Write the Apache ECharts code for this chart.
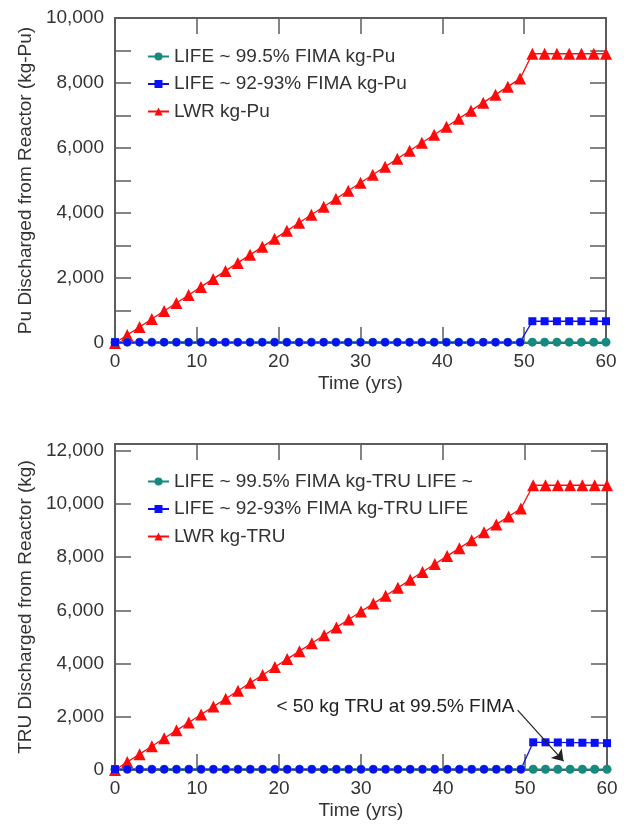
<!DOCTYPE html>
<html><head><meta charset="utf-8">
<script src="https://cdn.jsdelivr.net/npm/echarts@6/dist/echarts.min.js"></script>
<style>html,body{margin:0;padding:0;background:#fff}#c{width:628px;height:827px}</style>
</head><body><div id="c"></div>
<script>
// ---- data ----
const years = [0,1.5,3,4.5,6,7.5,9,10.5,12,13.5,15,16.5,18,19.5,21,22.5,24,25.5,27,28.5,30,31.5,33,34.5,36,37.5,39,40.5,42,43.5,45,46.5,48,49.5,51,52.5,54,55.5,57,58.5,60];
const xTicks = [0,10,20,30,40,50,60];

const puLwr = [0,247,493,740,986,1233,1479,1726,1972,2219,2465,2712,2958,3205,3451,3698,3944,4191,4437,4684,4930,5177,5423,5670,5916,6163,6409,6656,6902,7149,7395,7642,7888,8135,8900,8900,8900,8900,8900,8900,8900];
const puLife995 = [25,25,25,25,25,25,25,25,25,25,25,25,25,25,25,25,25,25,25,25,25,25,25,25,25,25,25,25,25,25,25,25,25,25,25,25,25,25,25,25,25];
const puLife92 = [25,25,25,25,25,25,25,25,25,25,25,25,25,25,25,25,25,25,25,25,25,25,25,25,25,25,25,25,25,25,25,25,25,25,670,670,670,670,670,670,670];

const truLwr = [0,298,595,893,1191,1489,1786,2084,2382,2679,2977,3275,3572,3870,4168,4466,4763,5061,5359,5656,5954,6252,6549,6847,7145,7443,7740,8038,8336,8633,8931,9229,9526,9824,10700,10700,10700,10700,10700,10700,10700];
const truLife995 = [30,30,30,30,30,30,30,30,30,30,30,30,30,30,30,30,30,30,30,30,30,30,30,30,30,30,30,30,30,30,30,30,30,30,30,30,30,30,30,30,30];
const truLife92 = [30,30,30,30,30,30,30,30,30,30,30,30,30,30,30,30,30,30,30,30,30,30,30,30,30,30,30,30,30,30,30,30,30,30,1040,1040,1035,1030,1025,1020,1010];

const namesPu = ['LIFE ~ 99.5% FIMA kg-Pu','LIFE ~ 92-93% FIMA kg-Pu','LWR kg-Pu'];
const namesTru = ['LIFE ~ 99.5% FIMA kg-TRU LIFE ~','LIFE ~ 92-93% FIMA kg-TRU LIFE','LWR kg-TRU'];
const noteText = '< 50 kg TRU at 99.5% FIMA';
const noteAt = [34.2, 2375];
const arrowFrom = [49.1, 2250];
const arrowTo = [54.7, 330];

// ---- chart ----
const FONT = '"Liberation Sans", Arial, Helvetica, sans-serif';
const TXT = '#333';
const AX = '#5c5c5c';
const TEAL = '#168a7e', BLUE = '#0a10f5', RED = '#ff0a0a';

function pts(ys){ return years.map((x,i)=>[x, ys[i]]); }
function bluePts(ys){
  // the blue series shows round markers while it runs along the teal one
  return years.map((x,i)=>{ const it={value:[x,ys[i]]}; if(i>=1 && x<50) it.symbol='circle'; return it; });
}
const fmt = v => v.toLocaleString('en-US');

function xAx(g, pos, showName){
  return {gridIndex:g, type:'value', min:0, max:60, interval:10, position:pos,
    name: showName ? 'Time (yrs)' : '', nameLocation:'middle', nameGap:31,
    nameTextStyle:{fontFamily:FONT, fontSize:19, color:TXT},
    axisLine:{show:true, onZero:false, lineStyle:{color:AX, width:2}},
    axisTick:{show:true, inside:true, length:16, lineStyle:{color:AX, width:1.5}},
    axisLabel:{show:showName, margin:9, fontFamily:FONT, fontSize:19, color:TXT},
    splitLine:{show:false}};
}
function yAx(g, pos, max, interval, labelEvery, name){
  const left = pos==='left';
  return {gridIndex:g, type:'value', min:0, max:max, interval:interval, position:pos,
    name: left ? name : '', nameLocation:'middle', nameGap:74,
    nameTextStyle:{fontFamily:FONT, fontSize:19, color:TXT},
    axisLine:{show:true, onZero:false, lineStyle:{color:AX, width:2}},
    axisTick:{show:true, inside:true, length:16, lineStyle:{color:AX, width:1.5}},
    axisLabel:{show:left, showMaxLabel: max % interval === 0, margin:11, fontFamily:FONT, fontSize:19, color:TXT,
      formatter: v => (v % labelEvery === 0 ? fmt(v) : '')},
    splitLine:{show:false}};
}
function lineSeries(name, xi, yi, data, color, symbol, size){
  return {name:name, type:'line', xAxisIndex:xi, yAxisIndex:yi, data:data,
    symbol:symbol, symbolSize:size, showSymbol:true, showAllSymbol:true,
    lineStyle:{color:color, width:1.3}, itemStyle:{color:color},
    emphasis:{disabled:true}, animation:false};
}
function legend(names, top){
  return {data:names, orient:'vertical', left:142, top:top, itemWidth:21, itemHeight:10, itemGap:8.5,
    selectedMode:false, textStyle:{fontFamily:FONT, fontSize:19, color:TXT}};
}

const chart = echarts.init(document.getElementById('c'), null, {renderer:'canvas'});
const truTeal = lineSeries(namesTru[0], 2, 2, pts(truLife995), TEAL, 'circle', 9);
truTeal.markLine = {silent:true, symbol:['none','arrow'], symbolSize:11, animation:false,
  lineStyle:{color:'#222', width:1.2, type:'solid'}, itemStyle:{color:'#222'}, label:{show:false},
  emphasis:{disabled:true},
  data:[[{coord:arrowFrom},{coord:arrowTo, symbol:'arrow', itemStyle:{color:'#222'}}]]};
truTeal.markPoint = {silent:true, animation:false, symbol:'circle', symbolSize:0,
  label:{show:true, position:'inside', formatter:noteText, fontFamily:FONT, fontSize:19, color:'#222'},
  data:[{coord:noteAt}]};

chart.setOption({
  animation:false,
  backgroundColor:'#fff',
  grid:[{left:115, right:22, top:18, height:325}, {left:115, right:21, top:444, height:326}],
  xAxis:[xAx(0,'bottom',true), xAx(0,'top',false), xAx(1,'bottom',true), xAx(1,'top',false)],
  yAxis:[yAx(0,'left',10000,1000,2000,'Pu Discharged from Reactor (kg-Pu)'), yAx(0,'right',10000,1000,2000,''),
         yAx(1,'left',12250,2000,2000,'TRU Discharged from Reactor (kg)'), yAx(1,'right',12250,2000,2000,'')],
  legend:[legend(namesPu, 42), legend(namesTru, 467)],
  series:[
    lineSeries(namesPu[2], 0, 0, pts(puLwr), RED, 'triangle', 12),
    lineSeries(namesPu[0], 0, 0, pts(puLife995), TEAL, 'circle', 9),
    lineSeries(namesPu[1], 0, 0, bluePts(puLife92), BLUE, 'rect', 8),
    lineSeries(namesTru[2], 2, 2, pts(truLwr), RED, 'triangle', 12),
    truTeal,
    lineSeries(namesTru[1], 2, 2, bluePts(truLife92), BLUE, 'rect', 8)
  ]
});
</script>
</body></html>
